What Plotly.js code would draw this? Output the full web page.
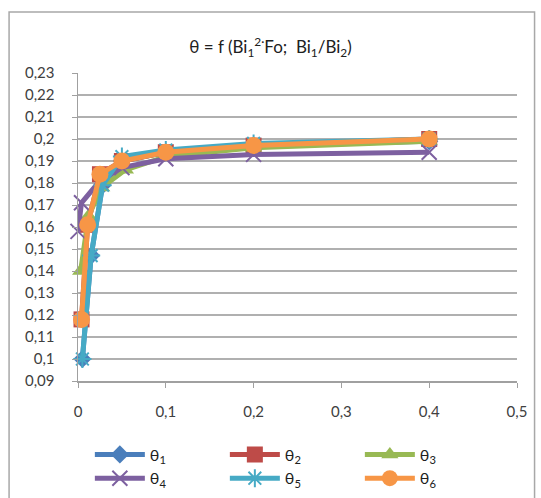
<!DOCTYPE html>
<html>
<head>
<meta charset="utf-8">
<script src="https://cdn.plot.ly/plotly-3.0.1.min.js"></script>
<style>html,body{margin:0;padding:0;background:#fff;}#chart{width:541px;height:498px;}</style>
</head>
<body>
<div id="chart"></div>
<script>
// Data
const seriesNames = ["θ<sub>1</sub>", "θ<sub>2</sub>", "θ<sub>3</sub>", "θ<sub>4</sub>", "θ<sub>5</sub>", "θ<sub>6</sub>"];
const x1 = [0.005, 0.015, 0.028, 0.05, 0.1, 0.2, 0.4];
const y1 = [0.100, 0.147, 0.179, 0.190, 0.194, 0.197, 0.199];
const x2 = [0.004, 0.011, 0.025, 0.05, 0.1, 0.2, 0.4];
const y2 = [0.118, 0.161, 0.184, 0.190, 0.194, 0.197, 0.200];
const x3 = [0.003, 0.012, 0.027, 0.054, 0.1, 0.2, 0.4];
const y3 = [0.140, 0.165, 0.178, 0.186, 0.192, 0.196, 0.199];
const x4 = [0.000, 0.004, 0.025, 0.05, 0.1, 0.2, 0.4];
const y4 = [0.158, 0.171, 0.181, 0.187, 0.191, 0.193, 0.194];
const x5 = [0.005, 0.015, 0.028, 0.05, 0.1, 0.2, 0.4];
const y5 = [0.100, 0.147, 0.179, 0.192, 0.195, 0.198, 0.200];
const x6 = [0.004, 0.011, 0.025, 0.05, 0.1, 0.2, 0.4];
const y6 = [0.118, 0.161, 0.184, 0.190, 0.194, 0.197, 0.200];

const xs = [x1, x2, x3, x4, x5, x6];
const ys = [y1, y2, y3, y4, y5, y6];
const colors = ["#4a7ebb", "#be4b48", "#98b954", "#7d60a0", "#46aac5", "#f79646"];
const symbols = ["diamond", "square", "triangle-up", "x-thin-open", "asterisk-open", "circle"];
const sizes = [14, 16, 15, 15, 15, 17];

const traces = xs.map((x, i) => ({
  x: x, y: ys[i], name: seriesNames[i], type: "scatter", mode: "lines+markers",
  line: {color: colors[i], width: 5},
  marker: {symbol: symbols[i], size: sizes[i], color: colors[i],
           line: {color: colors[i], width: (i === 3 || i === 4) ? 2 : 0}},
  cliponaxis: false
}));

const layout = {
  width: 541, height: 498,
  margin: {l: 78, r: 24, t: 73, b: 117, autoexpand: false},
  paper_bgcolor: "#ffffff", plot_bgcolor: "#ffffff",
  separators: ", ",
  font: {family: "Lato, 'Open Sans', sans-serif", size: 15, color: "#404040"},
  title: {text: "θ = f (Bi<sub>1</sub><sup>2·</sup>Fo;  Bi<sub>1</sub>/Bi<sub>2</sub>)",
          x: 0.5, xanchor: "center", y: 0.905, yanchor: "middle",
          font: {size: 17, color: "#202020"}},
  xaxis: {range: [0, 0.5], dtick: 0.1, tick0: 0, showgrid: false, zeroline: false,
          showline: true, linecolor: "#a0a0a0", linewidth: 1.5,
          ticks: "outside", ticklen: 5, tickcolor: "#a0a0a0",
          ticklabelstandoff: 11, fixedrange: true},
  yaxis: {range: [0.09, 0.23], dtick: 0.01, tick0: 0.09, showgrid: true,
          gridcolor: "#b0b0b0", gridwidth: 1.5, zeroline: false,
          showline: true, linecolor: "#a0a0a0", linewidth: 1.5,
          ticks: "outside", ticklen: 5, tickcolor: "#a0a0a0",
          ticklabelstandoff: 14, fixedrange: true},
  showlegend: true,
  legend: {orientation: "h", x: 0.027, xanchor: "left",
           yref: "container", y: 0.005, yanchor: "bottom",
           entrywidth: 70, entrywidthmode: "pixels", itemwidth: 50,
           font: {size: 16, color: "#202020"}, tracegroupgap: 0},
  shapes: [{type: "rect", xref: "paper", yref: "paper",
            x0: -0.157, x1: 1.04, y0: -0.6, y1: 1.198,
            line: {color: "#a8a8a8", width: 1.5}, fillcolor: "rgba(0,0,0,0)", layer: "below"}]
};

Plotly.newPlot("chart", traces, layout, {displayModeBar: false, staticPlot: true});
</script>
</body>
</html>
